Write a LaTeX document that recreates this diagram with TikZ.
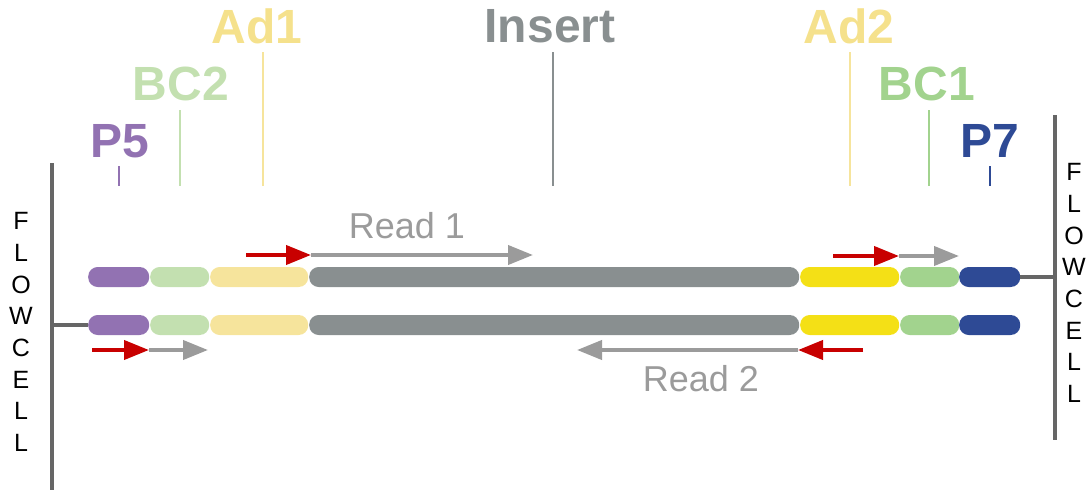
\documentclass[tikz,border=0pt]{standalone}
\usepackage{fontspec}
\setmainfont{Liberation Sans}
\usetikzlibrary{arrows.meta}
\definecolor{cP}{HTML}{9272B2}
\definecolor{cBCa}{HTML}{C3E0B0}
\definecolor{cAda}{HTML}{F6E49C}
\definecolor{cIns}{HTML}{898F90}
\definecolor{cAdb}{HTML}{F4E016}
\definecolor{cBCb}{HTML}{A2D38E}
\definecolor{cPs}{HTML}{2E4A95}
\definecolor{cAdl}{HTML}{F5E18C}
\definecolor{cRed}{HTML}{C80000}
\definecolor{cRd}{HTML}{9B9B9B}
\definecolor{cFc}{HTML}{666666}
\tikzset{
  seg/.style={fill=#1, rounded corners=9.5pt, minimum height=20pt, inner sep=0pt, anchor=west, draw=none},
  lab/.style={text=#1, font=\fontsize{48}{48}\selectfont\bfseries, inner sep=0pt},
  tick/.style={draw=#1, line width=2pt},
  fc/.style={draw=cFc, line width=3.5pt},
  fclet/.style={font=\fontsize{25}{25}\selectfont, inner sep=0pt},
  redarr/.style={draw=cRed, line width=4pt, -{Triangle[length=25pt,width=19pt]}},
  greyarr/.style={draw=cRd, line width=4pt, -{Triangle[length=25pt,width=19pt]}},
  readlab/.style={text=cRd, font=\fontsize{36}{36}\selectfont, inner sep=0pt}
}
\begin{document}
\begin{tikzpicture}[x=1pt,y=-1pt]
\useasboundingbox (0,0) rectangle (1090,490);
% top strand
\node[seg=cP, minimum width=61pt] (p5a) at (88,277) {};
\node[seg=cBCa, minimum width=59pt] (bc2a) at (150,277) {};
\node[seg=cAda, minimum width=98pt] (ad1a) at (210,277) {};
\node[seg=cIns, minimum width=490pt] (insa) at (309,277) {};
\node[seg=cAdb, minimum width=99pt] (ad2a) at (800,277) {};
\node[seg=cBCb, minimum width=59pt] (bc1a) at (900,277) {};
\node[seg=cPs, minimum width=61pt] (p7a) at (959,277) {};
% bottom strand
\node[seg=cP, minimum width=61pt] (p5b) at (88,325) {};
\node[seg=cBCa, minimum width=59pt] (bc2b) at (150,325) {};
\node[seg=cAda, minimum width=98pt] (ad1b) at (210,325) {};
\node[seg=cIns, minimum width=490pt] (insb) at (309,325) {};
\node[seg=cAdb, minimum width=99pt] (ad2b) at (800,325) {};
\node[seg=cBCb, minimum width=59pt] (bc1b) at (900,325) {};
\node[seg=cPs, minimum width=61pt] (p7b) at (959,325) {};
% flowcells
\coordinate (fcLt) at (52,163);
\coordinate (fcLb) at (52,490);
\coordinate (fcRt) at (1055,115);
\coordinate (fcRb) at (1055,440);
\draw[fc] (fcLt) -- (fcLb);
\draw[fc] (fcRt) -- (fcRb);
\draw[fc] (p5b.west) -- (p5b.west -| fcLt);
\draw[fc] (p7a.east) -- (p7a.east -| fcRt);
\foreach \l [count=\i from 0] in {F,L,O,W,C,E,L,L} {
  \node[fclet] (fl\i) at (21,221+31.7*\i) {\l};
  \node[fclet] (fr\i) at (1074,172+31.7*\i) {\l};
}
% labels
\node[lab=cP] (lP5) at (120,141) {P5};
\node[lab=cBCa] (lBC2) at (181,84) {BC2};
\node[lab=cAdl] (lAd1) at (257,26) {Ad1};
\node[lab=cIns] (lIns) at (550,26) {Insert};
\node[lab=cAdl] (lAd2) at (849,26) {Ad2};
\node[lab=cBCb] (lBC1) at (927,84) {BC1};
\node[lab=cPs] (lP7) at (990,141) {P7};
% ticks
\draw[tick=cP] (119,166) -- (119,186);
\draw[tick=cBCa] (180,110) -- (180,186);
\draw[tick=cAda] (263,52) -- (263,186);
\draw[tick=cIns] (553,52) -- (553,186);
\draw[tick=cAda] (850,52) -- (850,186);
\draw[tick=cBCb] (929,110) -- (929,186);
\draw[tick=cPs] (990,166) -- (990,186);
% read arrows
\coordinate (r1a) at (246,255);
\coordinate (r1b) at (311,255);
\coordinate (r1c) at (533,255);
\draw[redarr] (r1a) -- (r1b);
\draw[greyarr] (r1b) -- (r1c);
\node[readlab] (read1) at (407,226) {Read 1};
\coordinate (i1a) at (833,256);
\coordinate (i1b) at (899,256);
\coordinate (i1c) at (959,256);
\draw[redarr] (i1a) -- (i1b);
\draw[greyarr] (i1b) -- (i1c);
\coordinate (i2a) at (92,350);
\coordinate (i2b) at (149,350);
\coordinate (i2c) at (208,350);
\draw[redarr] (i2a) -- (i2b);
\draw[greyarr] (i2b) -- (i2c);
\coordinate (r2a) at (863,350);
\coordinate (r2b) at (798,350);
\coordinate (r2c) at (577,350);
\draw[redarr] (r2a) -- (r2b);
\draw[greyarr] (r2b) -- (r2c);
\node[readlab] (read2) at (701,379) {Read 2};
\end{tikzpicture}
\end{document}
